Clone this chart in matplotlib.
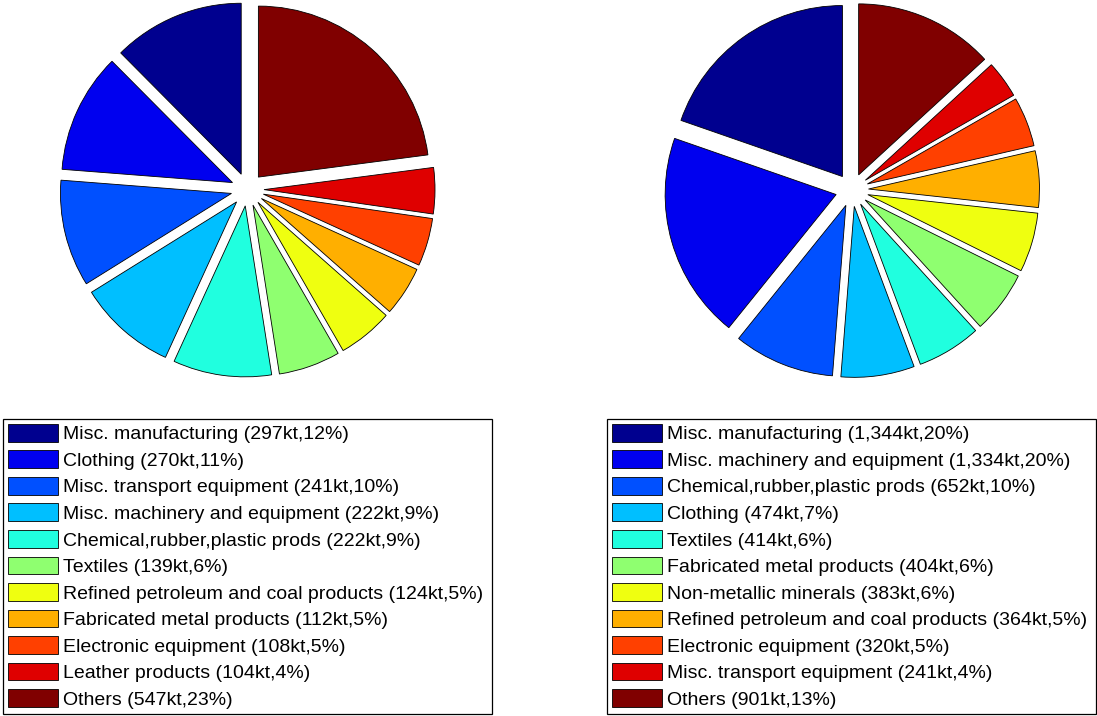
import matplotlib.pyplot as plt

# Emissions by sector, kt
setores_esq = ["Misc. manufacturing", "Clothing", "Misc. transport equipment",
               "Misc. machinery and equipment", "Chemical,rubber,plastic prods",
               "Textiles", "Refined petroleum and coal products",
               "Fabricated metal products", "Electronic equipment",
               "Leather products", "Others"]
valores_esq = [297, 270, 241, 222, 222, 139, 124, 112, 108, 104, 547]

setores_dir = ["Misc. manufacturing", "Misc. machinery and equipment",
               "Chemical,rubber,plastic prods", "Clothing", "Textiles",
               "Fabricated metal products", "Non-metallic minerals",
               "Refined petroleum and coal products", "Electronic equipment",
               "Misc. transport equipment", "Others"]
valores_dir = [1344, 1334, 652, 474, 414, 404, 383, 364, 320, 241, 901]

cores = ['#00008F', '#0000EF', '#0050FF', '#00BFFF', '#20FFDF', '#8FFF70',
         '#EFFF10', '#FFAF00', '#FF4000', '#DF0000', '#800000']

plt.rcParams['font.family'] = ['Liberation Sans', 'DejaVu Sans']

W, H = 1097, 716
fig = plt.figure(figsize=(W / 100, H / 100), dpi=100)


def rotulos(nomes, valores):
    total = sum(valores)
    return [f"{n} ({v:,}kt,{round(100 * v / total)}%)" for n, v in zip(nomes, valores)]


def desenhar_pizza(cx, cy, raio, valores, nomes, caixa_x, caixa_y, caixa_w=489):
    meia = 200
    ax = fig.add_axes([(cx - meia) / W, (H - cy - meia) / H, 2 * meia / W, 2 * meia / H])
    wedges, _ = ax.pie(valores, colors=cores, startangle=90, counterclock=True,
                       explode=[0.0965] * len(valores),
                       wedgeprops=dict(edgecolor='black', linewidth=0.6))
    lim = meia / raio
    ax.set_xlim(-lim, lim)
    ax.set_ylim(-lim, lim)
    ax.set_aspect('equal')
    ax.axis('off')

    leg = fig.legend(wedges, rotulos(nomes, valores), loc='upper left',
                     bbox_to_anchor=(caixa_x / W, 1 - caixa_y / H, caixa_w / W, 0),
                     bbox_transform=fig.transFigure, borderaxespad=0, mode='expand',
                     fontsize=14, handlelength=2.57, handleheight=1.03,
                     handletextpad=0.26, labelspacing=0.36, borderpad=0.25,
                     fancybox=False, framealpha=1, edgecolor='black')
    leg.get_frame().set_linewidth(0.9)


desenhar_pizza(247.5, 189.5, 171, valores_esq, setores_esq, 3, 419)
desenhar_pizza(852, 190, 171, valores_dir, setores_dir, 607, 419)

fig.savefig('out.png', dpi=100)
